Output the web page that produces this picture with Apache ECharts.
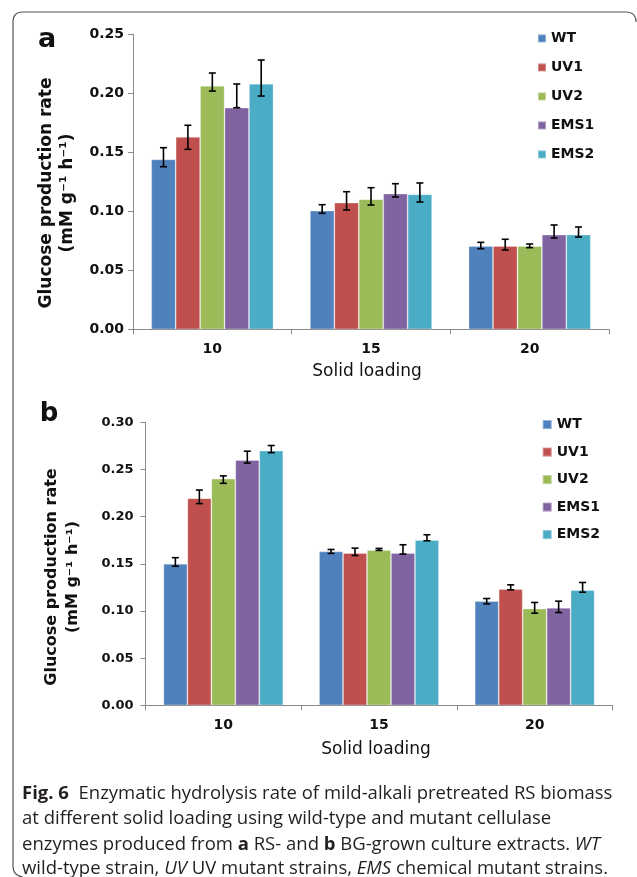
<!DOCTYPE html>
<html>
<head>
<meta charset="utf-8">
<script src="https://cdn.jsdelivr.net/npm/echarts@6/dist/echarts.min.js"></script>
<style>
html,body{margin:0;padding:0;background:#fff;}
#chart{width:637px;height:877px;}
</style>
</head>
<body>
<div id="chart"></div>
<script>
// ---------- DATA ----------
const categories = ['10', '15', '20'];
const seriesNames = ['WT', 'UV1', 'UV2', 'EMS1', 'EMS2'];
const yTicksA = [0, 0.05, 0.10, 0.15, 0.20, 0.25];
const yTicksB = [0, 0.05, 0.10, 0.15, 0.20, 0.25, 0.30];

// Panel a (RS-grown)
const aWT   = [0.1440, 0.1005, 0.0706];
const aUV1  = [0.1630, 0.1073, 0.0706];
const aUV2  = [0.2064, 0.1102, 0.0706];
const aEMS1 = [0.1878, 0.1149, 0.0802];
const aEMS2 = [0.2081, 0.1144, 0.0802];
// error bar lower / upper ends, panel a
const aLowWT   = [0.1378, 0.0983, 0.0683];
const aHighWT  = [0.1539, 0.1056, 0.0737];
const aLowUV1  = [0.1525, 0.1011, 0.0672];
const aHighUV1 = [0.1729, 0.1166, 0.0763];
const aLowUV2  = [0.2019, 0.1053, 0.0692];
const aHighUV2 = [0.2172, 0.1200, 0.0723];
const aLowEMS1  = [0.1878, 0.1121, 0.0774];
const aHighEMS1 = [0.2079, 0.1234, 0.0884];
const aLowEMS2  = [0.1977, 0.1079, 0.0782];
const aHighEMS2 = [0.2282, 0.1240, 0.0867];

// Panel b (BG-grown)
const bWT   = [0.1500, 0.1631, 0.1104];
const bUV1  = [0.2195, 0.1613, 0.1231];
const bUV2  = [0.2402, 0.1645, 0.1026];
const bEMS1 = [0.2600, 0.1613, 0.1033];
const bEMS2 = [0.2700, 0.1751, 0.1220];
const bLowWT   = [0.1474, 0.1610, 0.1075];
const bHighWT  = [0.1565, 0.1652, 0.1132];
const bLowUV1  = [0.2138, 0.1588, 0.1224];
const bHighUV1 = [0.2282, 0.1666, 0.1277];
const bLowUV2  = [0.2353, 0.1642, 0.0976];
const bHighUV2 = [0.2432, 0.1663, 0.1090];
const bLowEMS1  = [0.2568, 0.1603, 0.0983];
const bHighEMS1 = [0.2694, 0.1702, 0.1104];
const bLowEMS2  = [0.2678, 0.1744, 0.1199];
const bHighEMS2 = [0.2754, 0.1808, 0.1302];

// ---------- STYLE ----------
const colors = ['#4F81BD', '#C0504D', '#9BBB59', '#8064A2', '#4BACC6'];
const GAP = 0.23;
const axisColor = '#8a8a8a';
const txt = '#111';

const aVals = [aWT, aUV1, aUV2, aEMS1, aEMS2];
const aLows = [aLowWT, aLowUV1, aLowUV2, aLowEMS1, aLowEMS2];
const aHighs = [aHighWT, aHighUV1, aHighUV2, aHighEMS1, aHighEMS2];
const bVals = [bWT, bUV1, bUV2, bEMS1, bEMS2];
const bLows = [bLowWT, bLowUV1, bLowUV2, bLowEMS1, bLowEMS2];
const bHighs = [bHighWT, bHighUV1, bHighUV2, bHighEMS1, bHighEMS2];

function errData(lows, highs) {
  const out = [];
  lows.forEach((l, s) => l.forEach((v, c) => out.push([c, v, highs[s][c], s])));
  return out;
}

function renderErr(params, api) {
  const c = api.value(0), lo = api.value(1), hi = api.value(2), s = api.value(3);
  const band = api.size([1, 0])[0];
  const bw = band * (1 - GAP) / 5;
  const p1 = api.coord([c, lo]);
  const p2 = api.coord([c, hi]);
  const x = p1[0] + (s - 2) * bw;
  const cap = 3.5;
  const st = { stroke: '#000', lineWidth: 1.6 };
  return {
    type: 'group',
    children: [
      { type: 'line', shape: { x1: x, y1: p1[1], x2: x, y2: p2[1] }, style: st },
      { type: 'line', shape: { x1: x - cap, y1: p1[1], x2: x + cap, y2: p1[1] }, style: st },
      { type: 'line', shape: { x1: x - cap, y1: p2[1], x2: x + cap, y2: p2[1] }, style: st }
    ]
  };
}

const boldFont = 'DejaVu Sans';

function xAx(gridIndex) {
  return {
    type: 'category', gridIndex, data: categories,
    axisLine: { lineStyle: { color: axisColor, width: 1 } },
    axisTick: { show: true, length: 5, lineStyle: { color: axisColor } },
    axisLabel: { color: txt, fontFamily: boldFont, fontWeight: 'bold', fontSize: 14, margin: 13 },
    splitLine: { show: false }
  };
}
function yAx(gridIndex, ticks, fs, margin) {
  return {
    type: 'value', gridIndex,
    min: ticks[0], max: ticks[ticks.length - 1], interval: ticks[1] - ticks[0],
    axisLine: { show: true, lineStyle: { color: axisColor, width: 1 } },
    axisTick: { show: true, length: 5, lineStyle: { color: axisColor } },
    axisLabel: { color: txt, fontFamily: boldFont, fontWeight: 'bold', fontSize: fs, margin,
      formatter: v => v.toFixed(2) },
    splitLine: { show: false }
  };
}

const series = [];
aVals.forEach((d, i) => series.push({
  name: seriesNames[i], type: 'bar', xAxisIndex: 0, yAxisIndex: 0, data: d,
  barGap: 0, barCategoryGap: '23%', itemStyle: { color: colors[i], borderColor: 'rgba(255,255,255,0.35)', borderWidth: 0.8 },
  emphasis: { disabled: true }
}));
bVals.forEach((d, i) => series.push({
  name: seriesNames[i], type: 'bar', xAxisIndex: 1, yAxisIndex: 1, data: d,
  barGap: 0, barCategoryGap: '23%', itemStyle: { color: colors[i], borderColor: 'rgba(255,255,255,0.35)', borderWidth: 0.8 },
  emphasis: { disabled: true }
}));
series.push({ type: 'custom', xAxisIndex: 0, yAxisIndex: 0, renderItem: renderErr,
  data: errData(aLows, aHighs), encode: { x: 0, y: [1, 2] }, z: 10, silent: true });
series.push({ type: 'custom', xAxisIndex: 1, yAxisIndex: 1, renderItem: renderErr,
  data: errData(bLows, bHighs), encode: { x: 0, y: [1, 2] }, z: 10, silent: true });

function legend(left, top, size, gap) {
  return {
    data: seriesNames, orient: 'vertical', left, top, icon: 'rect', padding: 0,
    itemWidth: size, itemHeight: size, itemGap: gap, selectedMode: false,
    textStyle: { color: txt, fontFamily: boldFont, fontWeight: 'bold', fontSize: 14, lineHeight: 16 }
  };
}

const capFont = '"Open Sans", "Noto Sans", sans-serif';
const CAPFS = 18.5;
const capRich = {
  b: { fontFamily: capFont, fontWeight: 'bold', fontSize: CAPFS, fill: '#231f20' },
  i: { fontFamily: capFont, fontStyle: 'italic', fontSize: CAPFS, fill: '#231f20' }
};
function capLine(y, text) {
  return { type: 'text', left: 22, top: y, style: {
    text, fontFamily: capFont, fontSize: CAPFS, fill: '#231f20', rich: capRich } };
}
function rotText(x, y, text, fs) {
  return { type: 'text', x, y, rotation: Math.PI / 2, style: {
    text, font: 'bold ' + fs + 'px "DejaVu Sans"', fill: txt, align: 'center', verticalAlign: 'middle' } };
}
function cText(x, y, text, font) {
  return { type: 'text', x, y, style: { text, font, fill: txt, align: 'center', verticalAlign: 'middle' } };
}
const bst = { stroke: '#555', lineWidth: 1.2 };
function ln(x1, y1, x2, y2) { return { type: 'line', shape: { x1, y1, x2, y2 }, style: bst }; }
function crv(x1, y1, cpx1, cpy1, x2, y2) { return { type: 'bezierCurve', shape: { x1, y1, x2, y2, cpx1, cpy1 }, style: Object.assign({ fill: null }, bst) }; }

const option = {
  animation: false,
  backgroundColor: '#fff',
  grid: [
    { left: 133, top: 34.3, width: 476, height: 295 },
    { left: 145.5, top: 422.3, width: 467, height: 283 }
  ],
  xAxis: [xAx(0), xAx(1)],
  yAxis: [yAx(0, yTicksA, 14, 9), yAx(1, yTicksB, 13, 12)],
  legend: [legend(537, 30.4, 8, 13), legend(541.7, 416.6, 9, 11.5)],
  series,
  graphic: [
    ln(13, 22, 13, 866),
    ln(23, 12, 626, 12),
    crv(13, 22, 13, 12, 23, 12),
    crv(626, 12, 636, 12, 636, 22),
    crv(13, 866, 13, 876, 23, 877),
    cText(47, 40, 'a', 'bold 27px "DejaVu Sans"'),
    cText(49, 414, 'b', 'bold 26px "DejaVu Sans"'),
    rotText(47, 193, 'Glucose production rate', 17),
    rotText(68, 193, '(mM g\u207B\u00B9 h\u207B\u00B9)', 17),
    rotText(52, 577, 'Glucose production rate', 16),
    rotText(73, 577, '(mM g\u207B\u00B9 h\u207B\u00B9)', 16),
    cText(367, 372, 'Solid loading', '17px "DejaVu Sans"'),
    cText(376, 750, 'Solid loading', '17px "DejaVu Sans"'),
    capLine(784, '{b|Fig. 6}  Enzymatic hydrolysis rate of mild-alkali pretreated RS biomass'),
    capLine(809, 'at different solid loading using wild-type and mutant cellulase'),
    capLine(835, 'enzymes produced from {b|a} RS- and {b|b} BG-grown culture extracts. {i|WT}'),
    capLine(859.5, 'wild-type strain, {i|UV} UV mutant strains, {i|EMS} chemical mutant strains.')
  ]
};

const chart = echarts.init(document.getElementById('chart'), null, { renderer: 'canvas' });
chart.setOption(option);
</script>
</body>
</html>
